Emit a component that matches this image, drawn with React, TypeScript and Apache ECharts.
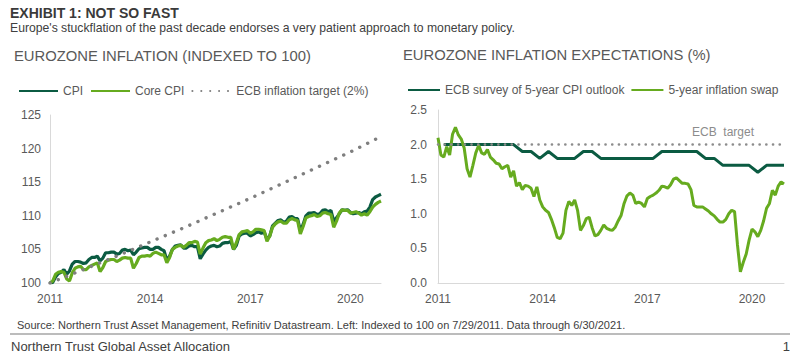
import React, { useEffect, useRef } from "react";
import * as echarts from "echarts";

// ---- Data ----
const startYear = 2011;
const startMonth = 7; // July 2011
const monthCount = 120;
const yearLabelStep = 36;

// Eurozone headline CPI, indexed to 100 (monthly, Jul 2011 - Jun 2021)
const cpi = [
  100.0, 100.1, 100.9, 101.4, 101.6, 102.0, 101.3, 101.8, 102.8, 103.2,
  103.2, 103.1, 102.9, 103.0, 103.5, 103.8, 103.8, 104.0, 103.3, 103.7,
  104.5, 104.5, 104.6, 104.6, 104.3, 104.4, 104.9, 105.0, 104.8, 104.9,
  104.2, 104.6, 105.1, 105.2, 105.3, 105.3, 105.0, 105.0, 105.3, 105.3,
  105.0, 104.8, 103.4, 104.0, 105.0, 105.5, 105.6, 105.7, 105.2, 105.2,
  105.5, 105.6, 105.4, 105.4, 103.6, 104.3, 104.9, 105.3, 105.5, 105.6,
  105.4, 105.5, 105.9, 106.0, 106.0, 106.2, 105.0, 105.6, 107.0, 107.3,
  107.4, 107.4, 107.0, 107.2, 107.5, 107.6, 107.4, 107.6, 106.5, 107.0,
  108.5, 108.9, 109.3, 109.4, 109.0, 109.2, 109.8, 109.9, 109.6, 109.6,
  107.8, 108.7, 110.0, 110.4, 110.4, 110.5, 110.2, 110.3, 110.8, 110.9,
  110.6, 110.8, 109.2, 109.7, 110.3, 110.9, 110.8, 110.9, 110.5, 110.3,
  110.4, 110.5, 110.3, 110.6, 110.7, 111.3, 112.4, 112.8, 113.0, 113.2,
];

// Eurozone core CPI, indexed to 100
const coreCpi = [
  100.0, 100.3, 101.3, 101.6, 101.7, 101.6, 100.6, 100.3, 101.5, 102.2,
  102.4, 102.5, 102.0, 102.0, 102.4, 102.6, 102.8, 103.0, 101.7, 102.3,
  103.2, 103.4, 103.5, 103.5, 103.2, 103.4, 103.7, 103.8, 103.7, 103.7,
  102.2, 102.9, 103.8, 104.0, 104.0, 104.1, 104.0, 104.4, 104.6, 104.4,
  104.2, 104.2, 103.0, 103.8, 105.0, 105.3, 105.5, 105.6, 105.3, 105.6,
  106.0, 106.0, 106.2, 106.1, 104.3, 105.2, 106.0, 106.3, 106.4, 106.6,
  106.3, 106.5, 106.8, 106.9, 106.8, 106.8, 105.0, 106.0, 107.2, 107.6,
  107.7, 107.8, 107.4, 107.6, 108.0, 108.0, 107.9, 107.8, 106.2, 107.0,
  108.3, 108.8, 109.1, 109.2, 108.9, 108.9, 109.4, 109.6, 109.4, 109.3,
  107.3, 108.4, 109.7, 109.9, 110.0, 110.2, 109.9, 110.0, 110.4, 110.5,
  110.3, 110.2, 108.3, 109.2, 110.4, 110.9, 110.8, 110.8, 110.4, 110.5,
  110.6, 110.4, 110.1, 110.3, 110.1, 110.6, 111.3, 111.7, 112.0, 112.2,
];

// ECB 2% inflation target path (index), annual points
const targetMonths = [0, 12, 24, 36, 48, 60, 72, 84, 96, 108, 119];
const targetValues = [100, 102.0, 104.0, 106.1, 108.2, 110.4, 112.6, 114.9, 117.2, 119.5, 121.8];

// ECB survey of 5-year CPI outlook (%), quarterly, first at month index 2
const surveyFirstMonth = 2;
const surveyQuarterly = [
  2.0, 2.0, 2.0, 2.0, 2.0, 2.0, 2.0, 2.0, 2.0,
  1.9, 1.9, 1.8, 1.9, 1.8, 1.8, 1.8, 1.9, 1.9, 1.8,
  1.8, 1.8, 1.8, 1.8, 1.8, 1.8,
  1.9, 1.9, 1.9, 1.9, 1.9,
  1.8, 1.8,
  1.7, 1.7, 1.7, 1.7,
  1.6,
  1.7, 1.7, 1.7,
];

// 5-year inflation swap (%), monthly
const swap5y = [
  2.10, 1.85, 1.82, 1.97, 1.85, 2.15, 2.25, 2.14, 2.08, 1.95,
  1.65, 1.53, 1.70, 1.88, 1.99, 1.88, 1.86, 1.93, 1.82, 1.78,
  1.73, 1.72, 1.65, 1.68, 1.70, 1.53, 1.62, 1.40, 1.45, 1.35,
  1.41, 1.40, 1.37, 1.25, 1.39, 1.20, 1.10, 1.05, 1.02, 0.92,
  0.80, 0.66, 0.64, 0.72, 1.05, 1.18, 1.12, 1.20, 1.05, 0.76,
  0.83, 0.93, 0.95, 0.80, 0.68, 0.70, 0.76, 0.84, 0.79, 0.77,
  0.76, 0.81, 0.90, 0.98, 1.15, 1.26, 1.30, 1.27, 1.15, 1.17,
  1.15, 1.10, 1.22, 1.25, 1.27, 1.30, 1.34, 1.40, 1.39, 1.37,
  1.42, 1.50, 1.52, 1.48, 1.44, 1.44, 1.43, 1.35, 1.12, 1.10,
  1.10, 1.10, 1.07, 1.04, 1.00, 0.97, 0.92, 0.88, 0.88, 0.92,
  1.00, 1.05, 1.03, 0.55, 0.16, 0.30, 0.42, 0.62, 0.78, 0.74,
  0.67, 0.76, 0.90, 1.08, 1.15, 1.34, 1.27, 1.40, 1.46, 1.43,
];

const ecbTarget = 2.0;

const leftAxis = { min: 100, max: 125, interval: 5 };
const rightAxis = { min: 0, max: 2.5, interval: 0.5 };

// ---- Styling ----
const DARK = "#0b5b42";
const LIGHT = "#66ab1f";
const DOT = "#7f7f7f";
const TXT = "#595959";
const FONT = '"Liberation Sans", Arial, sans-serif';

function buildMonths(): string[] {
  const out: string[] = [];
  for (let i = 0; i < monthCount; i++) {
    const m0 = startMonth - 1 + i;
    const y = startYear + Math.floor(m0 / 12);
    const m = (m0 % 12) + 1;
    out.push(`${y}-${m < 10 ? "0" + m : m}`);
  }
  return out;
}

function sparse(indices: number[], values: number[]): (number | null)[] {
  const arr: (number | null)[] = new Array(monthCount).fill(null);
  indices.forEach((idx, k) => (arr[idx] = values[k]));
  return arr;
}

export default function App() {
  const ref = useRef<HTMLDivElement>(null);

  useEffect(() => {
    if (!ref.current) return;
    const chart = echarts.init(ref.current, undefined, { renderer: "svg" });
    const months = buildMonths();
    const targetSeries = sparse(targetMonths, targetValues);
    const surveySeries = sparse(
      surveyQuarterly.map((_, k) => surveyFirstMonth + 3 * k),
      surveyQuarterly
    );

    const xAxisBase = {
      type: "category" as const,
      data: months,
      boundaryGap: false,
      axisTick: { show: false },
      axisLine: { show: true, lineStyle: { color: "#d9d9d9", width: 1 } },
      axisLabel: {
        interval: (idx: number) => idx % yearLabelStep === 0,
        formatter: (v: string) => v.slice(0, 4),
        color: TXT,
        fontSize: 12,
        fontFamily: FONT,
        margin: 10,
      },
      splitLine: { show: false },
    };
    const yAxisBase = {
      type: "value" as const,
      axisTick: { show: false },
      axisLine: { show: true, lineStyle: { color: "#d9d9d9", width: 1 } },
      splitLine: { show: false },
    };

    const legendText = { color: TXT, fontSize: 12, fontFamily: FONT };
    const legendItemStyle = { opacity: 0 };

    chart.setOption({
      animation: false,
      textStyle: { fontFamily: FONT },
      grid: [
        { left: 50, right: 419, top: 115, bottom: 80 },
        { left: 438, right: 16, top: 110, bottom: 80 },
      ],
      xAxis: [
        { ...xAxisBase, gridIndex: 0 },
        { ...xAxisBase, gridIndex: 1 },
      ],
      yAxis: [
        {
          ...yAxisBase,
          gridIndex: 0,
          ...leftAxis,
          axisLabel: { color: TXT, fontSize: 12, fontFamily: FONT, margin: 9 },
        },
        {
          ...yAxisBase,
          gridIndex: 1,
          ...rightAxis,
          axisLabel: {
            color: TXT,
            fontSize: 12,
            fontFamily: FONT,
            margin: 11,
            formatter: (v: number) => v.toFixed(1),
          },
        },
      ],
      legend: [
        {
          data: ["CPI", "Core CPI", "ECB inflation target (2%)"],
          left: 13,
          top: 80,
          itemWidth: 39,
          itemHeight: 14,
          itemGap: 7,
          itemStyle: legendItemStyle,
          textStyle: legendText,
        },
        {
          data: ["ECB survey of 5-year CPI outlook", "5-year inflation swap"],
          left: 402,
          top: 79,
          itemWidth: 32,
          itemHeight: 14,
          itemGap: 6,
          itemStyle: legendItemStyle,
          textStyle: legendText,
        },
      ],
      series: [
        {
          name: "CPI",
          type: "line",
          xAxisIndex: 0,
          yAxisIndex: 0,
          data: cpi,
          symbol: "none",
          lineStyle: { color: DARK, width: 3.2 },
          itemStyle: { color: DARK },
        },
        {
          name: "Core CPI",
          type: "line",
          xAxisIndex: 0,
          yAxisIndex: 0,
          data: coreCpi,
          symbol: "none",
          lineStyle: { color: LIGHT, width: 3.2 },
          itemStyle: { color: LIGHT },
        },
        {
          name: "ECB inflation target (2%)",
          type: "line",
          xAxisIndex: 0,
          yAxisIndex: 0,
          data: targetSeries,
          connectNulls: true,
          symbol: "none",
          lineStyle: { color: DOT, width: 3.4, type: [0.1, 8.8], cap: "round" },
          itemStyle: { color: DOT },
        },
        {
          name: "ECB survey of 5-year CPI outlook",
          type: "line",
          xAxisIndex: 1,
          yAxisIndex: 1,
          data: surveySeries,
          connectNulls: true,
          symbol: "none",
          lineStyle: { color: DARK, width: 3 },
          itemStyle: { color: DARK },
        },
        {
          name: "5-year inflation swap",
          type: "line",
          xAxisIndex: 1,
          yAxisIndex: 1,
          data: swap5y,
          symbol: "none",
          lineStyle: { color: LIGHT, width: 3 },
          itemStyle: { color: LIGHT },
          markLine: {
            silent: true,
            symbol: ["none", "none"],
            label: { show: false },
            lineStyle: { color: "#8c8c8c", width: 2.6, type: [0.1, 6.6], cap: "round" },
            data: [{ yAxis: ecbTarget }],
          },
        },
      ],
      graphic: [
        {
          type: "text",
          x: 10,
          y: 13,
          style: {
            text: "EXHIBIT 1: NOT SO FAST",
            font: `bold 14px ${FONT}`,
            fill: "#3a3a3a",
            verticalAlign: "middle",
          },
        },
        {
          type: "text",
          x: 10,
          y: 28,
          style: {
            text: "Europe's stuckflation of the past decade endorses a very patient approach to monetary policy.",
            font: `12.2px ${FONT}`,
            fill: "#404040",
            verticalAlign: "middle",
          },
        },
        {
          type: "text",
          x: 14,
          y: 56,
          style: {
            text: "EUROZONE INFLATION (INDEXED TO 100)",
            font: `14.8px ${FONT}`,
            fill: TXT,
            verticalAlign: "middle",
          },
        },
        {
          type: "text",
          x: 403,
          y: 55,
          style: {
            text: "EUROZONE INFLATION EXPECTATIONS (%)",
            font: `14.8px ${FONT}`,
            fill: TXT,
            verticalAlign: "middle",
          },
        },
        {
          type: "text",
          x: 723,
          y: 132,
          style: {
            text: "ECB  target",
            font: `12px ${FONT}`,
            fill: "#8c8c8c",
            align: "center",
            verticalAlign: "middle",
          },
        },
        {
          type: "text",
          x: 17,
          y: 325,
          style: {
            text: "Source: Northern Trust Asset Management, Refinitiv Datastream. Left: Indexed to 100 on 7/29/2011. Data through 6/30/2021.",
            font: `11px ${FONT}`,
            fill: "#404040",
            verticalAlign: "middle",
          },
        },
        {
          type: "line",
          shape: { x1: 10, y1: 334, x2: 790, y2: 334 },
          style: { stroke: "#a6a6a6", lineWidth: 1.5 },
        },
        {
          type: "text",
          x: 11,
          y: 346,
          style: {
            text: "Northern Trust Global Asset Allocation",
            font: `13px ${FONT}`,
            fill: "#404040",
            verticalAlign: "middle",
          },
        },
        {
          type: "text",
          x: 790,
          y: 346,
          style: {
            text: "1",
            font: `13px ${FONT}`,
            fill: "#404040",
            align: "right",
            verticalAlign: "middle",
          },
        },
      ],
    });

    return () => chart.dispose();
  }, []);

  return (
    <div
      ref={ref}
      style={{ position: "fixed", left: 0, top: 0, width: 800, height: 363, background: "#fff" }}
    />
  );
}
